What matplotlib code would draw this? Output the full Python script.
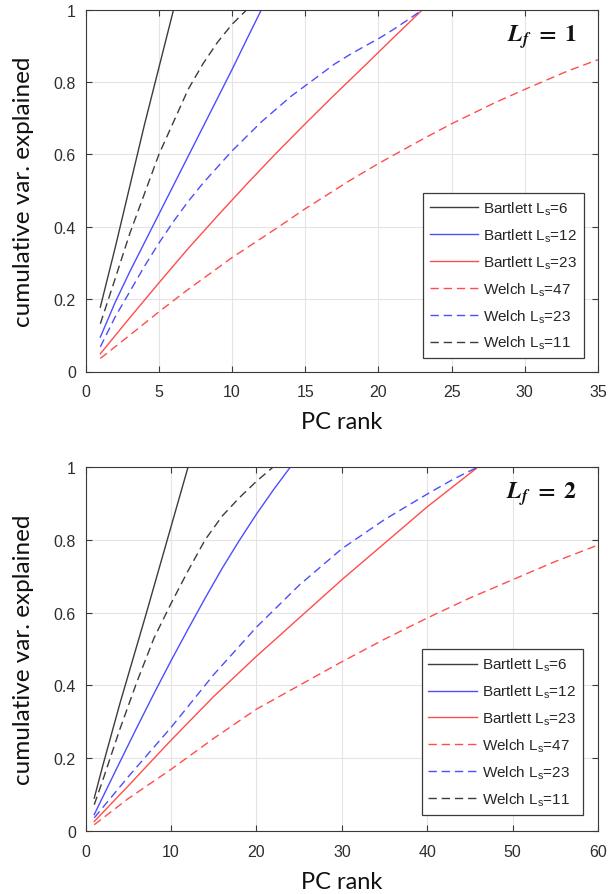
import numpy as np
import matplotlib
matplotlib.use("Agg")
import matplotlib.pyplot as plt

# cumulative variance explained vs. PC rank, L_f = 1
lf1_bart6_x = [1, 2, 3, 4, 5, 6]
lf1_bart6_y = [0.178, 0.34, 0.51, 0.68, 0.84, 1.0]
lf1_bart12_x = [1, 2, 3, 4, 5, 6, 7, 8, 9, 10, 11, 12]
lf1_bart12_y = [0.095, 0.19, 0.275, 0.355, 0.435, 0.515, 0.595, 0.675, 0.755, 0.835, 0.918, 1.0]
lf1_bart23_x = [1, 3, 5, 7, 9, 11, 13, 15, 17, 19, 21, 23]
lf1_bart23_y = [0.049, 0.148, 0.245, 0.34, 0.43, 0.518, 0.603, 0.685, 0.765, 0.843, 0.922, 1.0]
lf1_welch47_x = [1, 3, 5, 7, 10, 13, 15, 18, 20, 23, 25, 28, 30, 33, 35]
lf1_welch47_y = [0.036, 0.10, 0.165, 0.227, 0.315, 0.395, 0.45, 0.527, 0.575, 0.642, 0.685, 0.744, 0.78, 0.832, 0.862]
lf1_welch23_x = [1, 2, 3, 4, 5, 6, 7, 8, 9, 10, 11, 12, 13, 14, 15, 16, 17, 18, 19, 20, 21, 22, 23]
lf1_welch23_y = [0.068, 0.15, 0.22, 0.29, 0.355, 0.415, 0.47, 0.52, 0.565, 0.61, 0.65, 0.69, 0.725,
                 0.76, 0.79, 0.82, 0.85, 0.875, 0.898, 0.92, 0.945, 0.972, 1.0]
lf1_welch11_x = [1, 2, 3, 4, 5, 6, 7, 8, 9, 10, 11]
lf1_welch11_y = [0.132, 0.255, 0.38, 0.49, 0.60, 0.69, 0.78, 0.85, 0.91, 0.96, 1.0]

# same, L_f = 2
lf2_bart6_x = [1, 2, 3, 4, 5, 6, 7, 8, 9, 10, 11, 12]
lf2_bart6_y = [0.091, 0.18, 0.265, 0.35, 0.43, 0.51, 0.59, 0.672, 0.754, 0.836, 0.918, 1.0]
lf2_bart12_x = [1, 2, 4, 6, 8, 10, 12, 14, 16, 18, 20, 22, 24]
lf2_bart12_y = [0.046, 0.094, 0.19, 0.285, 0.378, 0.468, 0.555, 0.64, 0.722, 0.798, 0.87, 0.937, 1.0]
lf2_bart23_x = [1, 5, 10, 15, 20, 25, 30, 35, 40, 46]
lf2_bart23_y = [0.027, 0.125, 0.25, 0.37, 0.48, 0.585, 0.69, 0.79, 0.89, 1.0]
lf2_welch47_x = [1, 5, 10, 15, 20, 25, 30, 35, 40, 45, 50, 55, 60]
lf2_welch47_y = [0.018, 0.09, 0.17, 0.255, 0.335, 0.40, 0.465, 0.527, 0.585, 0.64, 0.69, 0.74, 0.785]
lf2_welch23_x = [1, 5, 10, 15, 20, 25, 30, 35, 40, 43, 46]
lf2_welch23_y = [0.037, 0.15, 0.285, 0.43, 0.56, 0.675, 0.775, 0.855, 0.925, 0.965, 1.0]
lf2_welch11_x = [1, 2, 4, 6, 8, 10, 12, 14, 16, 18, 20, 22]
lf2_welch11_y = [0.073, 0.14, 0.28, 0.41, 0.53, 0.625, 0.715, 0.8, 0.865, 0.915, 0.96, 1.0]

labels = [r"Bartlett $\mathregular{L_s}$=6", r"Bartlett $\mathregular{L_s}$=12",
          r"Bartlett $\mathregular{L_s}$=23", r"Welch $\mathregular{L_s}$=47",
          r"Welch $\mathregular{L_s}$=23", r"Welch $\mathregular{L_s}$=11"]
xmax = [35, 60]
xticks = [np.arange(0, 36, 5), np.arange(0, 61, 10)]
yticks = [0, 0.2, 0.4, 0.6, 0.8, 1]
ytick_labels = ["0", "0.2", "0.4", "0.6", "0.8", "1"]

K = "#3c3c3c"
B = "#4d4dff"
R = "#ff4d4d"
styles = [(K, "-"), (B, "-"), (R, "-"), (R, "--"), (B, "--"), (K, "--")]

panels = [
    [(lf1_bart6_x, lf1_bart6_y), (lf1_bart12_x, lf1_bart12_y), (lf1_bart23_x, lf1_bart23_y),
     (lf1_welch47_x, lf1_welch47_y), (lf1_welch23_x, lf1_welch23_y), (lf1_welch11_x, lf1_welch11_y)],
    [(lf2_bart6_x, lf2_bart6_y), (lf2_bart12_x, lf2_bart12_y), (lf2_bart23_x, lf2_bart23_y),
     (lf2_welch47_x, lf2_welch47_y), (lf2_welch23_x, lf2_welch23_y), (lf2_welch11_x, lf2_welch11_y)],
]
lf_text = [r"$\mathbfit{L_f}\mathbf{\ =\ 1}$", r"$\mathbfit{L_f}\mathbf{\ =\ 2}$"]

plt.rcParams["font.family"] = ["Liberation Sans", "DejaVu Sans"]

fig = plt.figure(figsize=(6.08, 8.95), dpi=100)
W, H = 608.0, 895.0
ax_px = [(85.7, 10.8, 598.0, 372.5), (85.7, 467.7, 598.0, 832.3)]
leg_anchor = [(0.9727, 0.0365), (0.9705, 0.0455)]

for i, series in enumerate(panels):
    x0, y1, x1, y0 = ax_px[i]
    ax = fig.add_axes([x0 / W, 1 - y0 / H, (x1 - x0) / W, (y0 - y1) / H])
    for (xs, ys), (c, ls), lab in zip(series, styles, labels):
        xs = list(xs)
        ys = list(ys)
        # once all the variance is explained the curve stays flat at 1
        if ys[-1] >= 1.0 and xs[-1] < xmax[i]:
            xs.append(xmax[i])
            ys.append(1.0)
        ax.plot(xs, ys, color=c, ls=ls, lw=1.0, label=lab,
                dashes=(6, 3.5) if ls == "--" else (None, None))
    ax.set_xlim(0, xmax[i])
    ax.set_ylim(0, 1)
    ax.set_xticks(xticks[i])
    ax.set_yticks(yticks)
    ax.set_yticklabels(ytick_labels)
    ax.grid(True, color="#e4e4e4", lw=0.8)
    ax.set_axisbelow(True)
    for s in ax.spines.values():
        s.set_color("#3a3a3a")
        s.set_linewidth(0.8)
    ax.tick_params(direction="in", length=4, width=0.8, top=True, right=True,
                   colors="#3a3a3a", labelcolor="#2e2e2e", labelsize=11.5)
    ax.tick_params(axis="x", pad=9)
    ax.tick_params(axis="y", pad=7)
    ax.set_xlabel("PC rank", fontsize=17, family="Lato", color="#111111", labelpad=9)
    ax.set_ylabel("cumulative var. explained", fontsize=17.5, family="Lato",
                  color="#111111", labelpad=14)
    ax.text(0.96, 0.927, lf_text[i], transform=ax.transAxes, ha="right", va="center",
            fontsize=17, math_fontfamily="stix", color="#111111")
    leg = ax.legend(loc="lower right", bbox_to_anchor=leg_anchor[i], borderaxespad=0,
                    fontsize=11, handlelength=3.2, handletextpad=0.3, labelspacing=0.62,
                    borderpad=0.45, fancybox=False, framealpha=1, edgecolor="#3a3a3a")
    leg.get_frame().set_linewidth(0.9)
    for t in leg.get_texts():
        t.set_color("#262626")

fig.savefig("out.png", dpi=100)
